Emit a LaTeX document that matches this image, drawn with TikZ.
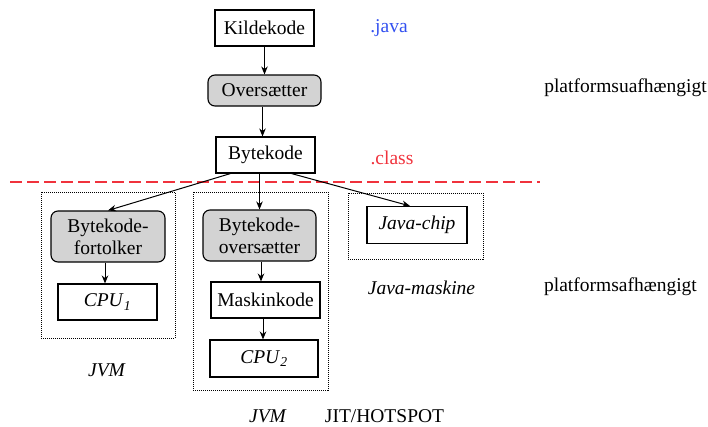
\documentclass[tikz,border=0pt]{standalone}
\usepackage{fontspec}
\setmainfont{Liberation Serif}
\usetikzlibrary{arrows.meta}
\definecolor{javablue}{RGB}{50,80,240}
\definecolor{classred}{RGB}{240,50,60}
\definecolor{boxgray}{RGB}{211,211,211}
\tikzset{
  x=1pt, y=-1pt,
  every node/.style={font=\fontsize{19.5}{22}\selectfont, inner sep=0pt, align=center},
  box/.style={draw, line width=1.1pt, fill=white},
  proc/.style={draw, line width=1.1pt, fill=boxgray, rounded corners=7pt},
  frame/.style={draw, line width=0.8pt, dash pattern=on 1pt off 1pt},
  arr/.style={-{Stealth[length=8pt,width=6.5pt]}, line width=1pt},
}
\newcommand{\cpusub}[1]{\textit{CPU}\textsubscript{\textit{#1}}}
\begin{document}
\begin{tikzpicture}
\useasboundingbox (0,0) rectangle (708,426);
% dotted frames
\node[frame, minimum width=134pt, minimum height=146pt] (fl) at (108,265) {};
\node[frame, minimum width=135pt, minimum height=198pt] (fm) at (260.5,291) {};
\node[frame, minimum width=135pt, minimum height=66pt] (fr) at (415.5,226) {};
% main nodes
\node[box, minimum width=99pt, minimum height=36pt] (kilde) at (264.5,28) {Kildekode};
\node[proc, minimum width=113pt, minimum height=31pt] (overs) at (264.5,90.5) {Oversætter};
\node[box, minimum width=99pt, minimum height=36pt] (byte) at (265.5,155) {Bytekode};
\node[proc, minimum width=114pt, minimum height=51pt] (fortolker) at (108,236.5) {Bytekode-\\fortolker};
\node[box, minimum width=99pt, minimum height=36pt] (cpu1) at (107.5,302) {\cpusub{1}};
\node[proc, minimum width=113pt, minimum height=51pt] (boversaet) at (259.5,235.5) {Bytekode-\\oversætter};
\node[box, minimum width=109pt, minimum height=36pt] (maskin) at (265.5,300) {Maskinkode};
\node[box, minimum width=108pt, minimum height=37pt] (cpu2) at (264,358.5) {\cpusub{2}};
\node[box, minimum width=100pt, minimum height=37pt] (chip) at (417,225) {\textit{Java-chip}};
% labels
\node[text=javablue] (java) at (389,28) {.java};
\node[text=classred] (class) at (392,158) {.class};
\node (uafh) at (625.5,88) {platformsuafhængigt};
\node (afh) at (620.5,287) {platformsafhængigt};
\node (jmask) at (421.5,288) {\textit{Java-maskine}};
\node (jvm1) at (107,370) {\textit{JVM}};
\node (jvm2) at (268,416) {\textit{JVM}};
\node (jit) at (384.5,416) {JIT/HOTSPOT};
% red dashed divider
\coordinate (dl) at (10,182);
\coordinate (dr) at (540,182);
\draw[classred, line width=1.2pt, dash pattern=on 12pt off 5pt] (dl) -- (dr);
% connectors
\draw[arr] (kilde.south) -- (overs.north);
\draw[arr] ([xshift=-2pt]overs.south) -- ([xshift=-3pt]byte.north);
\draw[arr] ([xshift=-35pt]byte.south) -- (fortolker.north);
\draw[arr] (boversaet.north |- byte.south) -- (boversaet.north);
\draw[arr] ([xshift=26pt]byte.south) -- ([xshift=-7pt]chip.north);
\draw[arr] ([xshift=-3pt]fortolker.south) -- ([xshift=-2.5pt]cpu1.north);
\draw[arr] ([xshift=1.5pt]boversaet.south) -- ([xshift=-4.5pt]maskin.north);
\draw[arr] ([xshift=-2.5pt]maskin.south) -- ([xshift=-1pt]cpu2.north);
\end{tikzpicture}
\end{document}
